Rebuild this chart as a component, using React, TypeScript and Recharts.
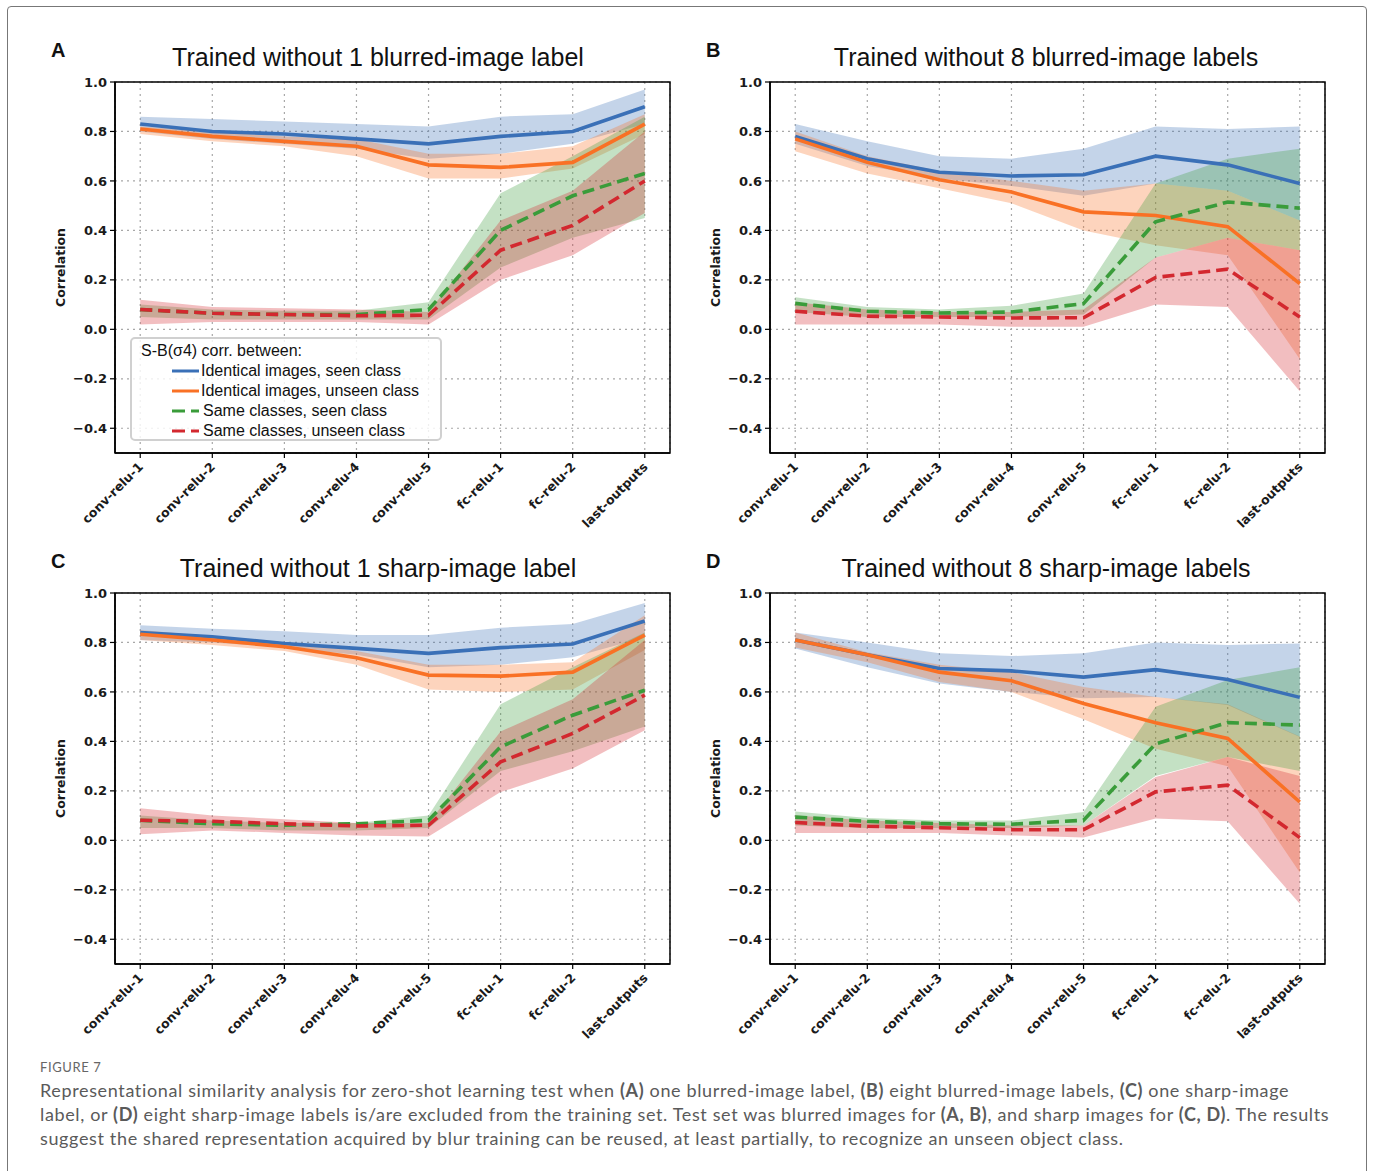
import React from 'react';
import { ComposedChart, Line, Area, XAxis, YAxis, CartesianGrid, ReferenceArea, Legend } from 'recharts';

// ---------- categories / ticks ----------
const layers = ['conv-relu-1', 'conv-relu-2', 'conv-relu-3', 'conv-relu-4', 'conv-relu-5', 'fc-relu-1', 'fc-relu-2', 'last-outputs'];
const yTicks = [-0.4, -0.2, 0.0, 0.2, 0.4, 0.6, 0.8, 1.0];
const seriesNames = ['Identical images, seen class', 'Identical images, unseen class', 'Same classes, seen class', 'Same classes, unseen class'];

// ---------- Panel A ----------
const blueA = [0.83, 0.80, 0.79, 0.77, 0.75, 0.78, 0.80, 0.90];
const blueAHi = [0.86, 0.85, 0.84, 0.83, 0.82, 0.86, 0.87, 0.97];
const blueALo = [0.80, 0.77, 0.75, 0.73, 0.69, 0.71, 0.75, 0.83];
const orangeA = [0.81, 0.78, 0.76, 0.74, 0.665, 0.655, 0.675, 0.83];
const orangeAHi = [0.82, 0.80, 0.78, 0.77, 0.71, 0.71, 0.74, 0.87];
const orangeALo = [0.79, 0.76, 0.74, 0.70, 0.61, 0.61, 0.65, 0.79];
const greenA = [0.08, 0.065, 0.06, 0.06, 0.08, 0.40, 0.54, 0.63];
const greenAHi = [0.10, 0.08, 0.075, 0.075, 0.11, 0.55, 0.70, 0.86];
const greenALo = [0.05, 0.04, 0.04, 0.04, 0.04, 0.25, 0.37, 0.45];
const redA = [0.08, 0.065, 0.06, 0.055, 0.057, 0.32, 0.42, 0.60];
const redAHi = [0.12, 0.09, 0.085, 0.08, 0.07, 0.44, 0.56, 0.80];
const redALo = [0.02, 0.03, 0.03, 0.03, 0.02, 0.20, 0.30, 0.47];

// ---------- Panel B ----------
const blueB = [0.78, 0.69, 0.635, 0.62, 0.625, 0.70, 0.665, 0.59];
const blueBHi = [0.83, 0.76, 0.70, 0.69, 0.73, 0.82, 0.81, 0.82];
const blueBLo = [0.75, 0.66, 0.61, 0.58, 0.54, 0.59, 0.56, 0.44];
const orangeB = [0.77, 0.675, 0.605, 0.555, 0.475, 0.46, 0.415, 0.185];
const orangeBHi = [0.80, 0.70, 0.64, 0.60, 0.56, 0.59, 0.56, 0.44];
const orangeBLo = [0.72, 0.63, 0.57, 0.51, 0.40, 0.34, 0.30, -0.12];
const greenB = [0.105, 0.073, 0.066, 0.07, 0.104, 0.435, 0.515, 0.49];
const greenBHi = [0.13, 0.09, 0.08, 0.095, 0.145, 0.59, 0.69, 0.73];
const greenBLo = [0.07, 0.05, 0.05, 0.05, 0.06, 0.29, 0.37, 0.32];
const redB = [0.073, 0.053, 0.05, 0.046, 0.047, 0.21, 0.243, 0.05];
const redBHi = [0.11, 0.08, 0.07, 0.07, 0.08, 0.29, 0.37, 0.32];
const redBLo = [0.02, 0.02, 0.02, 0.01, 0.01, 0.10, 0.09, -0.25];

// ---------- Panel C ----------
const blueC = [0.84, 0.823, 0.796, 0.776, 0.756, 0.779, 0.794, 0.887];
const blueCHi = [0.87, 0.855, 0.845, 0.83, 0.83, 0.86, 0.875, 0.96];
const blueCLo = [0.81, 0.80, 0.78, 0.75, 0.70, 0.71, 0.74, 0.82];
const orangeC = [0.833, 0.81, 0.783, 0.738, 0.668, 0.664, 0.68, 0.83];
const orangeCHi = [0.85, 0.825, 0.80, 0.765, 0.71, 0.71, 0.72, 0.91];
const orangeCLo = [0.81, 0.79, 0.765, 0.71, 0.61, 0.60, 0.61, 0.77];
const greenC = [0.081, 0.067, 0.061, 0.067, 0.081, 0.378, 0.506, 0.607];
const greenCHi = [0.10, 0.08, 0.07, 0.07, 0.10, 0.55, 0.70, 0.84];
const greenCLo = [0.05, 0.05, 0.04, 0.04, 0.05, 0.28, 0.36, 0.46];
const redC = [0.081, 0.077, 0.067, 0.058, 0.061, 0.317, 0.432, 0.587];
const redCHi = [0.13, 0.10, 0.085, 0.07, 0.07, 0.44, 0.57, 0.81];
const redCLo = [0.025, 0.04, 0.03, 0.02, 0.015, 0.195, 0.29, 0.445];

// ---------- Panel D ----------
const blueD = [0.81, 0.75, 0.695, 0.685, 0.66, 0.69, 0.65, 0.578];
const blueDHi = [0.84, 0.80, 0.756, 0.745, 0.756, 0.80, 0.79, 0.796];
const blueDLo = [0.776, 0.70, 0.634, 0.60, 0.574, 0.58, 0.547, 0.418];
const orangeD = [0.81, 0.75, 0.68, 0.645, 0.553, 0.475, 0.412, 0.155];
const orangeDHi = [0.84, 0.76, 0.71, 0.68, 0.62, 0.58, 0.55, 0.42];
const orangeDLo = [0.78, 0.72, 0.64, 0.60, 0.49, 0.37, 0.30, -0.13];
const greenD = [0.094, 0.077, 0.067, 0.065, 0.081, 0.39, 0.476, 0.466];
const greenDHi = [0.117, 0.09, 0.08, 0.08, 0.115, 0.54, 0.648, 0.70];
const greenDLo = [0.06, 0.05, 0.05, 0.05, 0.06, 0.26, 0.337, 0.28];
const redD = [0.072, 0.057, 0.051, 0.043, 0.043, 0.196, 0.223, 0.011];
const redDHi = [0.10, 0.08, 0.07, 0.06, 0.06, 0.256, 0.337, 0.26];
const redDLo = [0.03, 0.03, 0.03, 0.02, 0.011, 0.088, 0.077, -0.256];

const COLORS = ['#3a70b7', '#f97125', '#3a9c3a', '#d3282f'];
const DASHED = [false, false, true, true];
const KEYS = ['blue', 'orange', 'green', 'red'];

type Series = { mean: number[]; lo: number[]; hi: number[] };

const buildRows = (series: Series[]) =>
  layers.map((_, i) => {
    const row: any = { x: i };
    series.forEach((s, k) => {
      row[KEYS[k]] = s.mean[i];
      row[KEYS[k] + 'Band'] = [s.lo[i], s.hi[i]];
    });
    return row;
  });

const panels = [
  {
    letter: 'A', title: 'Trained without 1 blurred-image label', left: 0, top: 0, titleCx: 378, legend: true,
    series: [
      { mean: blueA, lo: blueALo, hi: blueAHi }, { mean: orangeA, lo: orangeALo, hi: orangeAHi },
      { mean: greenA, lo: greenALo, hi: greenAHi }, { mean: redA, lo: redALo, hi: redAHi },
    ],
  },
  {
    letter: 'B', title: 'Trained without 8 blurred-image labels', left: 655, top: 0, titleCx: 1046, legend: false,
    series: [
      { mean: blueB, lo: blueBLo, hi: blueBHi }, { mean: orangeB, lo: orangeBLo, hi: orangeBHi },
      { mean: greenB, lo: greenBLo, hi: greenBHi }, { mean: redB, lo: redBLo, hi: redBHi },
    ],
  },
  {
    letter: 'C', title: 'Trained without 1 sharp-image label', left: 0, top: 511, titleCx: 378, legend: false,
    series: [
      { mean: blueC, lo: blueCLo, hi: blueCHi }, { mean: orangeC, lo: orangeCLo, hi: orangeCHi },
      { mean: greenC, lo: greenCLo, hi: greenCHi }, { mean: redC, lo: redCLo, hi: redCHi },
    ],
  },
  {
    letter: 'D', title: 'Trained without 8 sharp-image labels', left: 655, top: 511, titleCx: 1046, legend: false,
    series: [
      { mean: blueD, lo: blueDLo, hi: blueDHi }, { mean: orangeD, lo: orangeDLo, hi: orangeDHi },
      { mean: greenD, lo: greenDLo, hi: greenDHi }, { mean: redD, lo: redDLo, hi: redDHi },
    ],
  },
];

const TICK_FONT = { fontFamily: 'DejaVu Sans', fontWeight: 'bold' as const, fontSize: 13, fill: '#1a1a1a' };

const XTick = (props: any) => {
  const { x, y, payload } = props;
  return (
    <g transform={`translate(${x - 3},${y + 1})`}>
      <text x={0} y={0} dy="0.75em" textAnchor="end" transform="rotate(-45)" {...TICK_FONT} fontSize={12.5}>
        {layers[payload.value]}
      </text>
    </g>
  );
};

const YLabel = (props: any) => {
  const vb = props.viewBox || { x: 0, y: 0, width: 0, height: 0 };
  const cx = vb.x - 15;
  const cy = vb.y + vb.height / 2;
  return (
    <text x={cx} y={cy} textAnchor="middle" dominantBaseline="central" transform={`rotate(-90, ${cx}, ${cy})`}
      fontFamily="DejaVu Sans" fontWeight="bold" fontSize={12.5} fill="#1a1a1a">
      Correlation
    </text>
  );
};

const fmtY = (v: number) => (v < 0 ? '\u2212' + Math.abs(v).toFixed(1) : v.toFixed(1));

const LegendBox = () => (
  <div style={{
    boxSizing: 'border-box', width: 312, height: 104, border: '2px solid #d0d0d0', borderRadius: 5,
    background: 'rgba(255,255,255,0.82)', fontFamily: 'Liberation Sans, Arial, sans-serif', fontSize: 16, color: '#111',
    padding: '2px 0 0 9px', lineHeight: '20px',
  }}>
    <div>S-B(σ4) corr. between:</div>
    {seriesNames.map((name, k) => (
      <div key={name} style={{ display: 'flex', alignItems: 'center', height: 20 }}>
        <svg width={30} height={10} style={{ marginLeft: 31, marginRight: 0 }}>
          <line x1={0} y1={5} x2={27} y2={5} stroke={COLORS[k]} strokeWidth={3}
            strokeDasharray={DASHED[k] ? '13 6' : undefined} />
        </svg>
        <span style={{ marginLeft: DASHED[k] ? 1 : -1 }}>{name}</span>
      </div>
    ))}
  </div>
);

const Panel = ({ p }: { p: any }) => {
  const rows = buildRows(p.series);
  return (
    <div style={{ position: 'absolute', left: p.left, top: p.top, width: 680, height: 540 }}>
      <ComposedChart width={680} height={540} data={rows} margin={{ top: 82, right: 10, bottom: 7, left: 75 }}>
        <CartesianGrid stroke="#a8a8a8" strokeDasharray="2 4" strokeWidth={1.2} />
        <XAxis dataKey="x" type="number" domain={[-0.35, 7.35]} ticks={[0, 1, 2, 3, 4, 5, 6, 7]} interval={0}
          allowDataOverflow height={80} tick={<XTick />} tickSize={5} tickLine={{ stroke: '#000', strokeWidth: 1.2 }}
          axisLine={{ stroke: '#000', strokeWidth: 1.5 }} />
        <YAxis type="number" domain={[-0.5, 1.0]} ticks={yTicks} interval={0} allowDataOverflow width={40}
          tickFormatter={fmtY} tick={TICK_FONT} tickSize={5} tickMargin={3}
          tickLine={{ stroke: '#000', strokeWidth: 1.2 }} axisLine={{ stroke: '#000', strokeWidth: 1.5 }}
          label={<YLabel />} />
        {KEYS.map((k, i) => (
          <Area key={k + 'Band'} dataKey={k + 'Band'} type="linear" stroke="none" fill={COLORS[i]} fillOpacity={0.3}
            isAnimationActive={false} activeDot={false} legendType="none" />
        ))}
        {KEYS.map((k, i) => (
          <Line key={k} dataKey={k} type="linear" stroke={COLORS[i]} strokeWidth={3.6} dot={false}
            strokeDasharray={DASHED[i] ? '12 6' : undefined} isAnimationActive={false} activeDot={false} />
        ))}
        <ReferenceArea x1={-0.35} x2={7.35} y1={-0.5} y2={1.0} fill="none" stroke="#000" strokeWidth={1.5} ifOverflow="visible" />
        {p.legend && (
          <Legend layout="vertical" align="center" verticalAlign="middle" content={<LegendBox />}
            wrapperStyle={{ left: 130, top: 337, width: 312, height: 104 }} />
        )}
      </ComposedChart>
    </div>
  );
};

export default function App() {
  return (
    <div style={{ position: 'absolute', left: 0, top: 0, width: 1375, height: 1171, overflow: 'hidden', background: '#fff' }}>
      <div style={{ position: 'absolute', left: 7, top: 6, width: 1360, height: 1200, border: '1.5px solid #777', borderRadius: 4, boxSizing: 'border-box' }} />
      {panels.map((p) => (
        <React.Fragment key={p.letter}>
          <Panel p={p} />
          <div style={{ position: 'absolute', left: p.left + 51, top: p.top + 39, fontFamily: 'Liberation Sans, Arial, sans-serif', fontWeight: 'bold', fontSize: 20, color: '#111' }}>{p.letter}</div>
          <div style={{ position: 'absolute', left: p.titleCx - 300, width: 600, textAlign: 'center', top: p.top + 43, fontFamily: 'Liberation Sans, Arial, sans-serif', fontSize: 25, color: '#111', whiteSpace: 'nowrap' }}>{p.title}</div>
        </React.Fragment>
      ))}
      <div style={{ position: 'absolute', left: 40, top: 1059, fontFamily: 'Lato, sans-serif', fontSize: 13, color: '#666', letterSpacing: 0.6 }}>FIGURE 7</div>
      <div style={{ position: 'absolute', left: 40, top: 1078, fontFamily: 'Lato, sans-serif', fontSize: 18, color: '#5a5a5a', lineHeight: '24px', whiteSpace: 'nowrap', letterSpacing: 0.64 }}>
        <div>Representational similarity analysis for zero-shot learning test when <b>(A)</b> one blurred-image label, <b>(B)</b> eight blurred-image labels, <b>(C)</b> one sharp-image</div>
        <div>label, or <b>(D)</b> eight sharp-image labels is/are excluded from the training set. Test set was blurred images for <b>(A, B)</b>, and sharp images for <b>(C, D)</b>. The results</div>
        <div>suggest the shared representation acquired by blur training can be reused, at least partially, to recognize an unseen object class.</div>
      </div>
    </div>
  );
}
